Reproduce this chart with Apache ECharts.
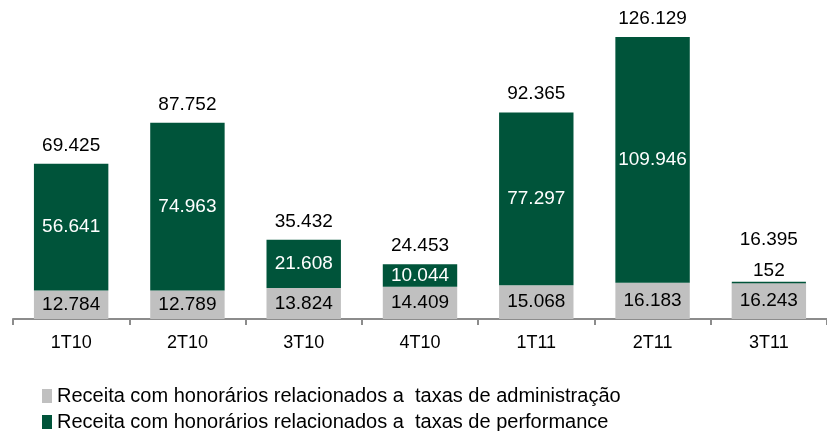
<!DOCTYPE html>
<html>
<head>
<meta charset="utf-8">
<script src="https://cdn.jsdelivr.net/npm/echarts@6/dist/echarts.min.js"></script>
<style>
  * { margin: 0; padding: 0; }
  body { background: #fff; }
</style>
</head>
<body>
<div id="chart" style="width:827px;height:431px;"></div>
<script>
var quarters = ['1T10', '2T10', '3T10', '4T10', '1T11', '2T11', '3T11'];
var adminFees = [12.784, 12.789, 13.824, 14.409, 15.068, 16.183, 16.243];
var perfFees = [56.641, 74.963, 21.608, 10.044, 77.297, 109.946, 0.152];
var totals = [69.425, 87.752, 35.432, 24.453, 92.365, 126.129, 16.395];

function fmt(v) {
  // formato brasileiro com ponto de milhar (valores em milhares)
  var n = Math.round(v * 1000);
  return n.toString().replace(/\B(?=(\d{3})+(?!\d))/g, '.');
}

var chart = echarts.init(document.getElementById('chart'));
var font = 'Liberation Sans, Arial, sans-serif';

chart.setOption({
  animation: false,
  grid: { left: 13, right: 0, top: 6, bottom: 112 },
  xAxis: {
    type: 'category',
    data: quarters,
    axisLine: { lineStyle: { color: '#8c8c8c', width: 2 } },
    axisTick: { show: true, interval: 0, length: 6, lineStyle: { color: '#8c8c8c', width: 2 } },
    axisLabel: { color: '#000', fontSize: 18, fontFamily: font, margin: 15 }
  },
  yAxis: { type: 'value', min: 0, max: 140, show: false, splitLine: { show: false } },
  legend: {
    orient: 'vertical',
    left: 42,
    top: 386,
    height: 60,
    padding: 0,
    itemWidth: 10,
    itemHeight: 14,
    itemGap: 6,
    icon: 'rect',
    textStyle: { color: '#000', fontSize: 20, fontFamily: font },
    data: ['Receita com honorários relacionados a  taxas de administração',
           'Receita com honorários relacionados a  taxas de performance']
  },
  series: [
    {
      name: 'Receita com honorários relacionados a  taxas de administração',
      type: 'bar',
      stack: 'r',
      barWidth: '64%',
      itemStyle: { color: '#c0c0c0' },
      label: { show: true, position: 'inside', color: '#000', fontSize: 19, fontFamily: font,
               formatter: function (p) { return fmt(p.value); } },
      data: adminFees
    },
    {
      name: 'Receita com honorários relacionados a  taxas de performance',
      type: 'bar',
      stack: 'r',
      itemStyle: { color: '#00543a' },
      label: { show: true, position: 'inside', color: '#fff', fontSize: 19, fontFamily: font,
               formatter: function (p) { return fmt(p.value); } },
      data: perfFees.map(function (v) {
        if (v < 2) return { value: v, itemStyle: { borderColor: '#00543a', borderWidth: 1.5 },
                            label: { position: 'top', color: '#000', distance: 1 } };
        return v;
      })
    },
    {
      name: 'total',
      type: 'bar',
      stack: 'r',
      itemStyle: { color: 'transparent' },
      label: { show: true, position: 'top', distance: 9, color: '#000', fontSize: 19, fontFamily: font,
               formatter: function (p) { return fmt(totals[p.dataIndex]); } },
      data: totals.map(function (t, i) {
        if (perfFees[i] < 2) return { value: 0, label: { distance: 33 } };
        return 0;
      })
    }
  ]
});
</script>
</body>
</html>
